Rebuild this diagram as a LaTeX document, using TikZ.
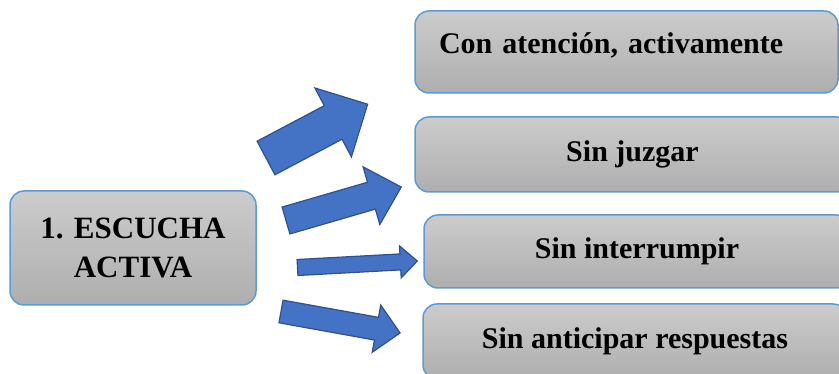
\documentclass[tikz,border=0pt]{standalone}
\usepackage{fontspec}
\setmainfont{Liberation Serif}
\usetikzlibrary{positioning}
\definecolor{boxBorder}{RGB}{91,155,213}
\definecolor{boxTop}{RGB}{204,204,204}
\definecolor{boxBottom}{RGB}{174,174,174}
\definecolor{arrowFill}{RGB}{68,114,196}
\definecolor{arrowBorder}{RGB}{47,82,143}
\tikzstyle{sheet} = [x = 1pt, y = -1pt]
\tikzstyle{ideaBox} = [draw=boxBorder, line width=1.5pt, rounded corners = 14pt, top color=boxTop, bottom color=boxBottom, font=\fontsize{30}{39}\selectfont\bfseries, align=center, inner sep=0pt]
\tikzstyle{arrowStyle} = [fill=arrowFill, draw=arrowBorder, line width=1.2pt, line join=miter]
% block arrow: tail centre, turn, length, half shaft, half head, head length
\newcommand{\blockArrow}[6]{
  \begin{scope}[shift={#1}, rotate=#2]
    \filldraw [arrowStyle] (0,-#4) -- (#3-#6,-#4) -- (#3-#6,-#5) -- (#3,0) -- (#3-#6,#5) -- (#3-#6,#4) -- (0,#4) -- cycle;
  \end{scope}
}
\begin{document}
\begin{tikzpicture}[sheet]
  \useasboundingbox (0,0) rectangle (839,374);
  \clip (0,0) rectangle (839,374);

  \node [ideaBox, minimum width=246pt, minimum height=114pt, font=\fontsize{31}{39}\selectfont\bfseries] (escucha) at (133,248) {1. ESCUCHA\\ACTIVA};

  \node [ideaBox, minimum width=423pt, minimum height=82pt, text width=375pt, align=left, text depth=18pt] (atencion) at (626.5,52) {Con atención, activamente};
  \node [ideaBox, minimum width=435pt, minimum height=75pt] (juzgar) at (632.5,154.5) {Sin juzgar};
  \node [ideaBox, minimum width=426pt, minimum height=73pt] (interrumpir) at (637,251.5) {Sin interrumpir};
  \node [ideaBox, minimum width=424pt, minimum height=75pt] (anticipar) at (635,341.5) {Sin anticipar respuestas};

  \blockArrow{(266,158)}{27.9}{115}{19}{39}{39}
  \blockArrow{(286,220.5)}{16.2}{120}{14}{30}{31}
  \blockArrow{(297.5,267.5)}{3.1}{120}{8}{16}{17}
  \blockArrow{(281,311.5)}{-10.2}{121}{11.5}{24}{24}
\end{tikzpicture}
\end{document}
